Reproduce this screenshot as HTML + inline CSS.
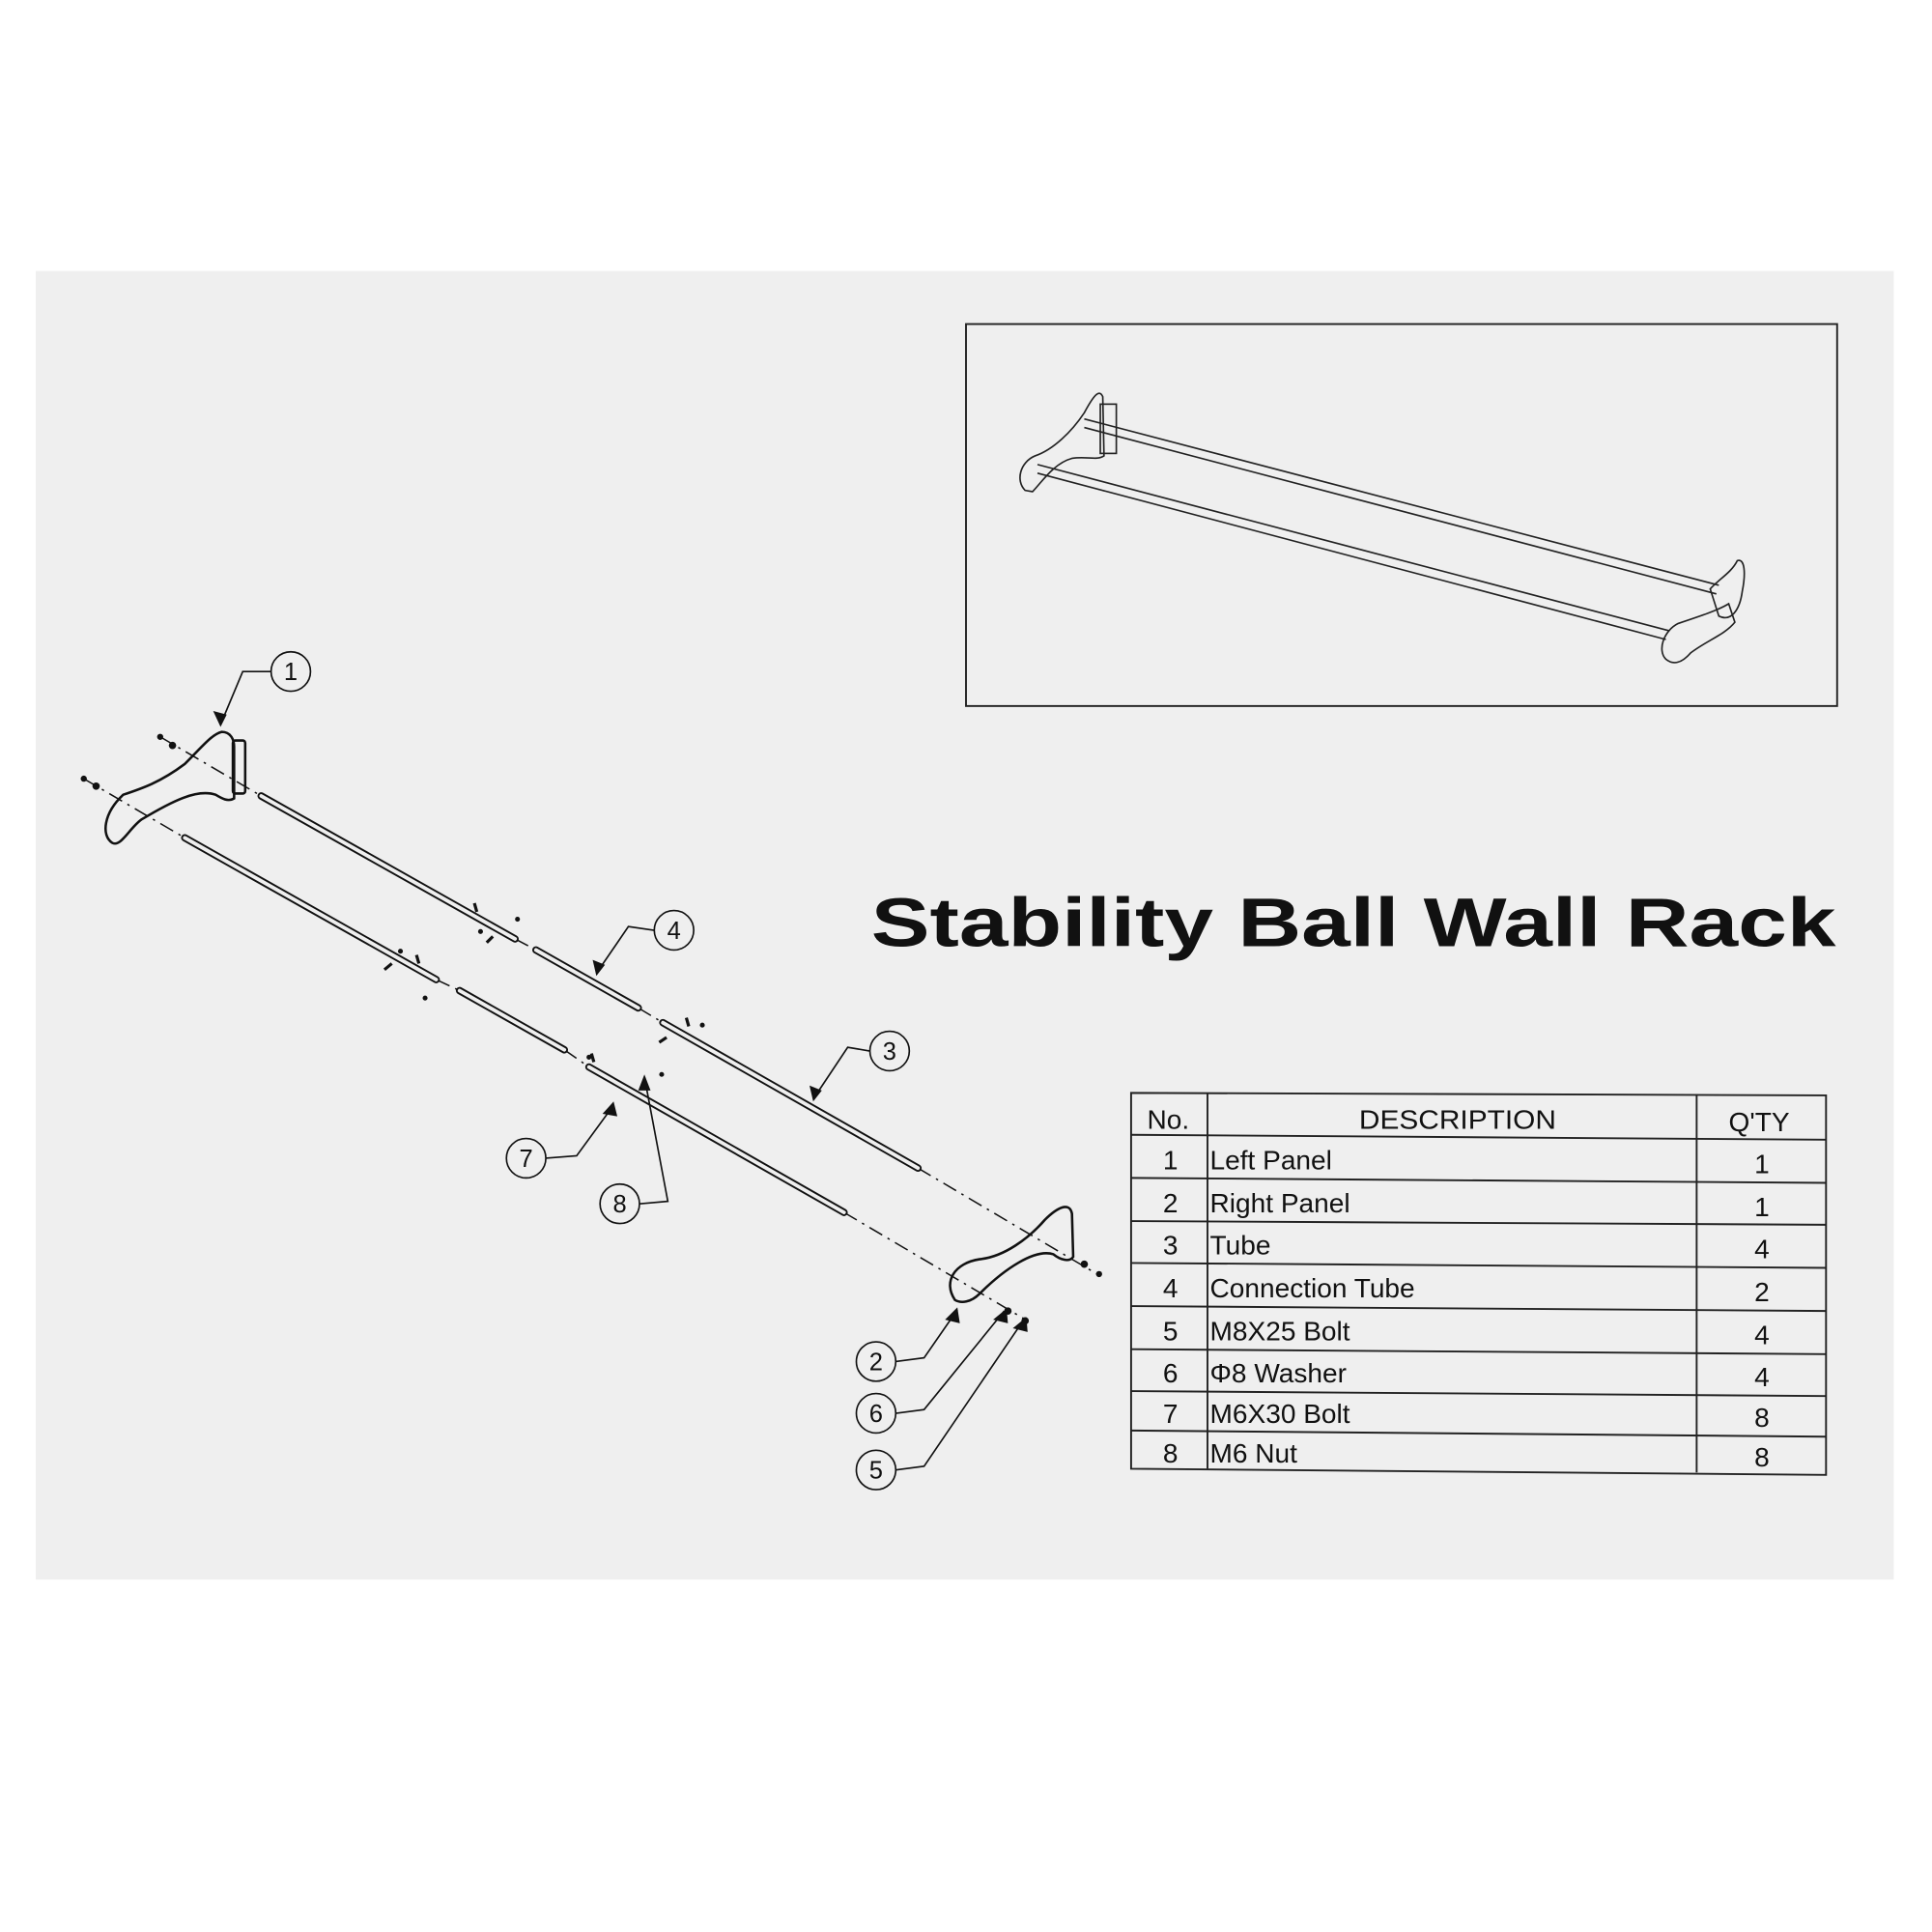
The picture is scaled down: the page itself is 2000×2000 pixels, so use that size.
<!DOCTYPE html>
<html><head><meta charset="utf-8"><style>
html,body{margin:0;padding:0;background:#fff;}
svg{display:block;}
text{font-family:"Liberation Sans",sans-serif;}
</style></head><body>
<svg width="2000" height="2000" viewBox="0 0 1568 1568" xmlns="http://www.w3.org/2000/svg">
<rect x="0" y="0" width="1568" height="1568" fill="#fff"/>
<rect x="29" y="220" width="1508" height="1062" fill="#efefef"/>
<!-- inset -->
<rect x="784" y="263" width="707" height="310" fill="none" stroke="#222" stroke-width="1.5"/>
<g fill="none" stroke="#222" stroke-width="1.3">
<path d="M832,398 C824,390 828,375 840,370 C855,365 870,350 880,335 C887,322 892,315 895,322 L896,370 C890,374 882,370 870,372 C855,376 845,392 838,399 Z"/>
<rect x="893" y="328" width="13" height="40"/>
<line x1="880" y1="340" x2="1395" y2="475"/><line x1="880" y1="347" x2="1393" y2="482"/>
<line x1="842" y1="377" x2="1355" y2="512"/><line x1="842" y1="384" x2="1352" y2="519"/>
<path d="M1388,478 C1395,470 1405,465 1410,455 C1416,453 1417,465 1414,480 C1412,495 1405,505 1395,500 Z"/>
<path d="M1352,535 C1345,528 1350,512 1362,506 C1380,500 1395,495 1403,490 L1408,505 C1400,515 1385,520 1372,530 C1365,538 1358,540 1352,535 Z"/>
</g>
<!-- title -->
<text x="707" y="768" font-size="56" font-weight="bold" textLength="783" lengthAdjust="spacingAndGlyphs" fill="#111">Stability Ball Wall Rack</text>
<!-- table -->
<g stroke="#222" stroke-width="1.5" fill="none">
<path d="M918,887 L1482,889 L1482,1197 L918,1192 Z"/>
<line x1="980" y1="887" x2="980" y2="1192"/>
<line x1="1377" y1="888" x2="1377" y2="1195"/>
<line x1="918" y1="921" x2="1482" y2="925"/>
<line x1="918" y1="956" x2="1482" y2="960"/>
<line x1="918" y1="991" x2="1482" y2="994"/>
<line x1="918" y1="1025" x2="1482" y2="1029"/>
<line x1="918" y1="1060" x2="1482" y2="1064"/>
<line x1="918" y1="1095" x2="1482" y2="1099"/>
<line x1="918" y1="1129" x2="1482" y2="1133"/>
<line x1="918" y1="1161" x2="1482" y2="1166"/>
</g>
<g font-size="22" fill="#111">
<text x="931" y="916">No.</text>
<text x="1103" y="916" textLength="160" lengthAdjust="spacingAndGlyphs">DESCRIPTION</text>
<text x="1403" y="918">Q'TY</text>
<g text-anchor="middle">
<text x="950" y="949">1</text><text x="950" y="984">2</text><text x="950" y="1018">3</text><text x="950" y="1053">4</text>
<text x="950" y="1088">5</text><text x="950" y="1122">6</text><text x="950" y="1155">7</text><text x="950" y="1187">8</text>
<text x="1430" y="952">1</text><text x="1430" y="987">1</text><text x="1430" y="1021">4</text><text x="1430" y="1056">2</text>
<text x="1430" y="1091">4</text><text x="1430" y="1125">4</text><text x="1430" y="1158">8</text><text x="1430" y="1190">8</text>
</g>
<text x="982" y="949">Left Panel</text><text x="982" y="984">Right Panel</text><text x="982" y="1018">Tube</text>
<text x="982" y="1053">Connection Tube</text><text x="982" y="1088">M8X25 Bolt</text><text x="982" y="1122">Φ8 Washer</text>
<text x="982" y="1155">M6X30 Bolt</text><text x="982" y="1187">M6 Nut</text>
</g>
<!-- exploded view -->
<g fill="none" stroke="#111" stroke-width="2">
<path d="M91,684 C82,678 84,660 100,645 C115,640 130,635 150,620 C165,605 172,596 180,594 C187,594 190,600 190,606 L190,648 C185,651 180,648 175,645 C160,640 140,650 115,665 C105,672 98,688 91,684 Z"/>
<rect x="189" y="601" width="10" height="43" rx="2"/>
<path d="M775,1055 C765,1040 775,1025 795,1022 C815,1020 835,1005 848,990 C858,980 868,975 870,985 L871,1020 C868,1025 860,1022 855,1018 C840,1013 815,1030 795,1050 C788,1057 780,1058 775,1055 Z"/>
</g>
<g stroke="#111" stroke-width="1.2" stroke-dasharray="12,5,2,5" fill="none">
<line x1="130" y1="598" x2="212" y2="646"/>
<line x1="68" y1="632" x2="150" y2="680"/>
<line x1="745" y1="948" x2="892" y2="1035"/>
<line x1="685" y1="984" x2="834" y2="1072"/>
<line x1="418" y1="762" x2="435" y2="771"/><line x1="518" y1="818" x2="538" y2="830"/>
<line x1="354" y1="795" x2="373" y2="804"/><line x1="458" y1="852" x2="478" y2="866"/>
</g>
<g stroke-linecap="round">
<g stroke="#111" stroke-width="6">
<line x1="212" y1="646" x2="418" y2="762"/><line x1="435" y1="771" x2="518" y2="818"/><line x1="538" y1="830" x2="745" y2="948"/>
<line x1="150" y1="680" x2="354" y2="795"/><line x1="373" y1="804" x2="458" y2="852"/><line x1="478" y1="866" x2="685" y2="984"/>
</g>
<g stroke="#efefef" stroke-width="3">
<line x1="212" y1="646" x2="418" y2="762"/><line x1="435" y1="771" x2="518" y2="818"/><line x1="538" y1="830" x2="745" y2="948"/>
<line x1="150" y1="680" x2="354" y2="795"/><line x1="373" y1="804" x2="458" y2="852"/><line x1="478" y1="866" x2="685" y2="984"/>
</g>
</g>
<!-- small bolts / nuts -->
<g fill="#111">
<circle cx="130" cy="598" r="2.5"/><circle cx="140" cy="605" r="3"/>
<circle cx="68" cy="632" r="2.5"/><circle cx="78" cy="638" r="3"/>
<circle cx="880" cy="1026" r="3"/><circle cx="892" cy="1034" r="2.5"/>
<circle cx="818" cy="1064" r="3"/><circle cx="832" cy="1072" r="3"/>
<circle cx="537" cy="872" r="2"/><circle cx="478" cy="858" r="2"/><circle cx="390" cy="756" r="2"/><circle cx="420" cy="746" r="2"/><circle cx="570" cy="832" r="2"/><circle cx="325" cy="772" r="2"/><circle cx="345" cy="810" r="2"/>
</g>
<g stroke="#111" stroke-width="2.5">
<line x1="385" y1="733" x2="387" y2="740"/><line x1="400" y1="760" x2="395" y2="765"/>
<line x1="338" y1="775" x2="340" y2="782"/><line x1="312" y1="787" x2="318" y2="782"/>
<line x1="557" y1="826" x2="559" y2="833"/><line x1="535" y1="846" x2="541" y2="842"/>
<line x1="480" y1="855" x2="482" y2="862"/>
</g>
<!-- callouts -->
<g fill="none" stroke="#111" stroke-width="1.3">
<circle cx="236" cy="545" r="16"/><polyline points="220,545 197,545 179,588"/>
<circle cx="547" cy="755" r="16"/><polyline points="531,755 510,752 484,790"/>
<circle cx="722" cy="853" r="16"/><polyline points="706,853 688,850 660,892"/>
<circle cx="427" cy="940" r="16"/><polyline points="443,940 468,938 498,897"/>
<circle cx="503" cy="977" r="16"/><polyline points="519,977 542,975 523,874"/>
<circle cx="711" cy="1105" r="16"/><polyline points="727,1105 750,1102 777,1063"/>
<circle cx="711" cy="1147" r="16"/><polyline points="727,1147 750,1144 815,1064"/>
<circle cx="711" cy="1193" r="16"/><polyline points="727,1193 750,1190 831,1071"/>
</g>
<g fill="#111">
<polygon points="179,590 173,577 184,580"/>
<polygon points="484,792 481,779 491,783"/>
<polygon points="660,894 657,881 667,885"/>
<polygon points="498,894 489,904 501,906"/>
<polygon points="523,872 518,885 528,885"/>
<polygon points="777,1061 767,1071 779,1074"/>
<polygon points="817,1062 806,1071 818,1074"/>
<polygon points="833,1069 822,1078 834,1081"/>
</g>
<g font-size="20" fill="#111" text-anchor="middle">
<text x="236" y="552">1</text><text x="547" y="762">4</text><text x="722" y="860">3</text><text x="427" y="947">7</text>
<text x="503" y="984">8</text><text x="711" y="1112">2</text><text x="711" y="1154">6</text><text x="711" y="1200">5</text>
</g>
</svg>
</body></html>
